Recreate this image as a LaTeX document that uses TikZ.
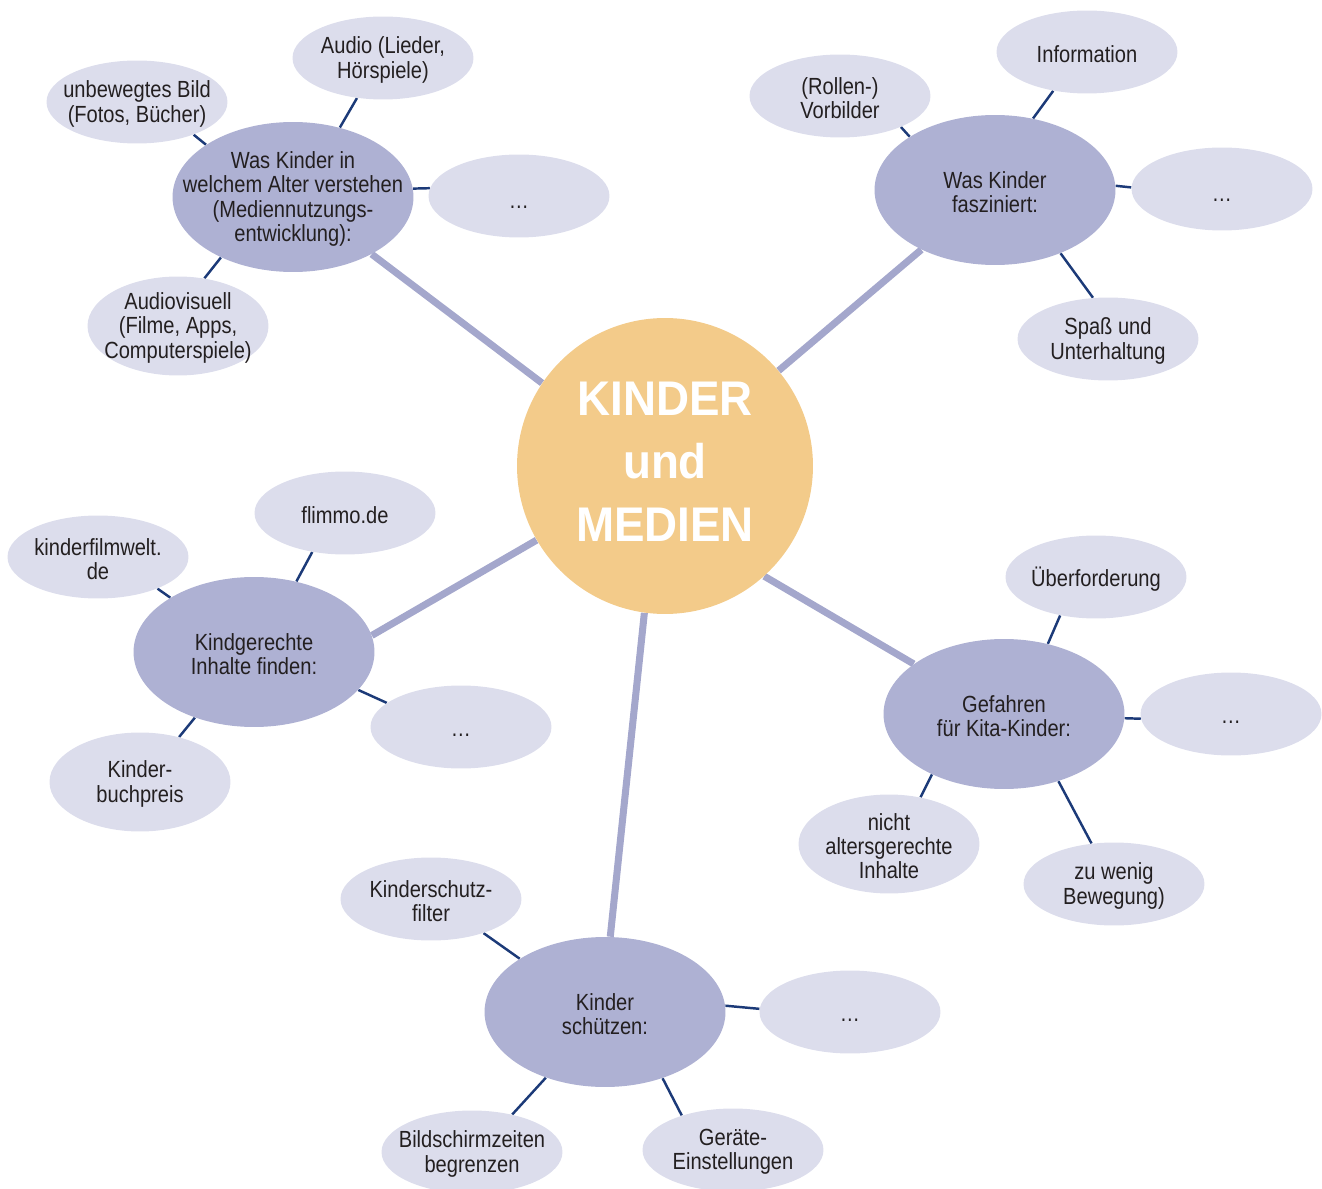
\documentclass[tikz,border=0pt]{standalone}
\usepackage{fontspec}
\setmainfont{Liberation Sans}[FakeStretch=0.86]
\newfontfamily\hubfont{Liberation Sans}[FakeStretch=0.94]
\usetikzlibrary{shapes.geometric,backgrounds}

\definecolor{hubfill}{HTML}{F3CB8A}
\definecolor{topicfill}{HTML}{AEB1D3}
\definecolor{leaffill}{HTML}{DCDDEC}
\definecolor{spoke}{HTML}{A4A7CC}
\definecolor{twig}{HTML}{1C3A78}
\definecolor{ink}{HTML}{231F20}

\newcommand{\dotsmark}{\vphantom{A}…}
\newcommand{\lowdots}{\vphantom{A}\raisebox{-3pt}{…}}

\tikzset{
  txt/.style={font=\fontsize{13.3}{13.7}\selectfont, text=ink, align=center,
    inner sep=0pt, yshift=-1.1pt},
  hubtxt/.style={font=\hubfont\bfseries\fontsize{27.7}{36}\selectfont, text=white,
    align=center, inner sep=0pt, yshift=2.3pt},
  hubdisc/.style={circle, fill=hubfill, minimum size=5.92cm, inner sep=0pt,
    label={[hubtxt]center:{#1}}},
  topic/.style={ellipse, fill=topicfill, minimum width=4.82cm, minimum height=3cm,
    inner sep=0pt, label={[txt]center:{#1}}},
  leaf/.style={ellipse, fill=leaffill, minimum width=3.62cm, minimum height=1.66cm,
    inner sep=0pt, label={[txt]center:{#1}}},
  tallleaf/.style={leaf={#1}, minimum height=1.98cm},
  spokeline/.style={draw=spoke, line width=4pt},
  twigline/.style={draw=twig, line width=1.4pt},
}

\begin{document}
\begin{tikzpicture}[x=0.02cm, y=-0.02cm]
\useasboundingbox (0,0) rectangle (1322,1189);

% central topic
\node[hubdisc={KINDER\\und\\MEDIEN}] (hub) at (665,466) {};

% branch 1: understanding by age
\node[topic={Was Kinder in\\welchem Alter verstehen\\(Mediennutzungs-\\entwicklung):}] (t1) at (293,197) {};
\node[leaf={unbewegtes Bild\\(Fotos, Bücher)}] (t1a) at (137,102) {};
\node[leaf={Audio (Lieder,\\Hörspiele)}] (t1b) at (383,58) {};
\node[leaf={\lowdots}] (t1c) at (519,196) {};
\node[tallleaf={Audiovisuell\\(Filme, Apps,\\Computerspiele)}] (t1d) at (178,326) {};

% branch 2: fascination
\node[topic={Was Kinder\\fasziniert:}] (t2) at (995,190) {};
\node[leaf={(Rollen-)\\Vorbilder}] (t2a) at (840,96) {};
\node[leaf={Information}] (t2b) at (1087,52) {};
\node[leaf={\lowdots}] (t2c) at (1222,189) {};
\node[leaf={Spaß und\\Unterhaltung}] (t2d) at (1108,339) {};

% branch 3: suitable content
\node[topic={Kindgerechte\\Inhalte finden:}] (t3) at (254,652) {};
\node[leaf={kinderfilmwelt.\\de}] (t3a) at (98,557) {};
\node[leaf={flimmo.de}] (t3b) at (345,513) {};
\node[leaf={\dotsmark}] (t3c) at (461,727) {};
\node[tallleaf={Kinder-\\buchpreis}] (t3d) at (140,782) {};

% branch 4: risks
\node[topic={Gefahren\\für Kita-Kinder:}] (t4) at (1004,714) {};
\node[leaf={Überforderung}] (t4a) at (1096,577) {};
\node[leaf={\dotsmark}] (t4b) at (1231,714) {};
\node[tallleaf={nicht\\altersgerechte\\Inhalte}] (t4c) at (889,844) {};
\node[leaf={zu wenig\\Bewegung)}] (t4d) at (1114,884) {};

% branch 5: protection
\node[topic={Kinder\\schützen:}] (t5) at (605,1012) {};
\node[leaf={Kinderschutz-\\filter}] (t5a) at (431,899) {};
\node[leaf={\dotsmark}] (t5b) at (850,1012) {};
\node[leaf={Bildschirmzeiten\\begrenzen}] (t5c) at (472,1152) {};
\node[leaf={Geräte-\\Einstellungen}] (t5d) at (733,1150) {};

\begin{pgfonlayer}{background}
  % thick spokes from the centre to each topic
  \foreach \t/\p/\q in {t1/146/324, t2/40/219, t3/210/8, t4/312/151, t5/262/86}
    \draw[spokeline] (hub.\p) -- (\t.\q);
  % thin twigs from each topic to its items
  \foreach \a/\b/\p/\q in {
      t1/t1a/149/330, t1/t1b/56/237, t1/t1c/4/175, t1/t1d/220/61,
      t2/t2a/148/333, t2/t2b/62/229, t2/t2c/2/179, t2/t2d/316/110,
      t3/t3a/147/332, t3/t3b/59/230, t3/t3c/340/162, t3/t3d/228/49,
      t4/t4a/58/227,  t4/t4b/358/183, t4/t4c/220/56, t4/t4d/309/119,
      t5/t5a/148/327, t5/t5b/3/178,  t5/t5c/228/43, t5/t5d/311/146}
    \draw[twigline] (\a.\p) -- (\b.\q);
\end{pgfonlayer}
\end{tikzpicture}
\end{document}
